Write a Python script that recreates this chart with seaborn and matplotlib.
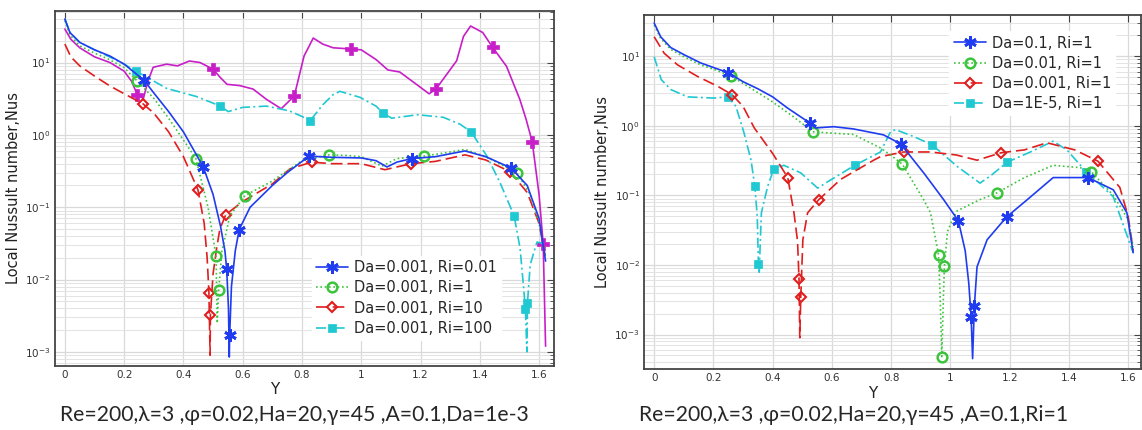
import matplotlib
matplotlib.use("Agg")
import numpy as np
import pandas as pd
import seaborn as sns
from matplotlib import pyplot as plt
from matplotlib.lines import Line2D
from matplotlib.ticker import FuncFormatter, MultipleLocator, LogLocator

# ---------------- 左图 Da=1e-3, 不同 Ri ----------------
l_blue_x = [0, 0.017, 0.05, 0.1, 0.152, 0.2, 0.267, 0.3, 0.35, 0.4, 0.467, 0.5, 0.525, 0.54, 0.546,
            0.552, 0.5547, 0.556, 0.562, 0.575, 0.588, 0.625, 0.7, 0.75, 0.824, 0.9, 1.0, 1.05, 1.087,
            1.12, 1.17, 1.25, 1.35, 1.42, 1.505, 1.56, 1.6, 1.622]
l_blue_y = [40, 26, 19, 15, 12.3, 9.5, 5.7, 3.8, 2.1, 1.1, 0.36, 0.15, 0.055, 0.025, 0.0138,
            0.004, 0.00085, 0.0017, 0.008, 0.025, 0.049, 0.1, 0.2, 0.3, 0.51, 0.49, 0.48, 0.44, 0.36,
            0.42, 0.47, 0.5, 0.6, 0.5, 0.35, 0.2, 0.07, 0.018]
l_blue_m = [0.267, 0.467, 0.546, 0.556, 0.588, 0.824, 1.17, 1.505]

l_green_x = [0, 0.017, 0.05, 0.1, 0.15, 0.2, 0.243, 0.3, 0.35, 0.4, 0.442, 0.483, 0.51, 0.514, 0.519,
             0.53, 0.557, 0.608, 0.7, 0.8, 0.892, 0.95, 1.0, 1.07, 1.12, 1.213, 1.3, 1.35, 1.42,
             1.525, 1.57, 1.6, 1.622]
l_green_y = [38, 24, 17, 13.5, 11, 8.5, 5.6, 3.2, 1.7, 0.85, 0.47, 0.1, 0.021, 0.0025, 0.0072,
             0.025, 0.077, 0.145, 0.23, 0.44, 0.53, 0.52, 0.5, 0.37, 0.47, 0.51, 0.58, 0.63, 0.5,
             0.3, 0.15, 0.06, 0.02]
l_green_m = [0.243, 0.442, 0.51, 0.519, 0.608, 0.892, 1.213, 1.525]

l_red_x = [0, 0.02, 0.05, 0.1, 0.15, 0.2, 0.263, 0.3, 0.35, 0.4, 0.449, 0.47, 0.48, 0.486, 0.49,
           0.491, 0.5, 0.512, 0.523, 0.543, 0.6, 0.7, 0.76, 0.833, 0.9, 1.0, 1.08, 1.168, 1.25,
           1.35, 1.42, 1.502, 1.56, 1.6, 1.622]
l_red_y = [18, 12, 9, 6.5, 4.8, 3.7, 2.7, 2.0, 1.1, 0.5, 0.174, 0.06, 0.02, 0.0066, 0.0009,
           0.0032, 0.012, 0.027, 0.05, 0.079, 0.12, 0.21, 0.34, 0.42, 0.4, 0.4, 0.33, 0.4, 0.43,
           0.53, 0.45, 0.31, 0.16, 0.06, 0.02]
l_red_m = [0.263, 0.449, 0.486, 0.491, 0.543, 0.833, 1.168, 1.502]

l_cyan_x = [0, 0.017, 0.05, 0.1, 0.15, 0.2, 0.24, 0.27, 0.298, 0.343, 0.443, 0.525, 0.551, 0.6,
            0.68, 0.757, 0.8, 0.827, 0.87, 0.905, 0.928, 0.996, 1.05, 1.073, 1.103, 1.19, 1.277,
            1.334, 1.371, 1.424, 1.468, 1.516, 1.536, 1.546, 1.554, 1.559, 1.561, 1.57, 1.593,
            1.61, 1.622]
l_cyan_y = [40, 26, 19, 15, 12, 9.5, 7.6, 6.5, 5.6, 4.4, 3.4, 2.5, 2.1, 2.4, 2.5, 2.15, 1.8, 1.56,
            2.6, 3.6, 4.0, 3.3, 2.5, 2.0, 1.7, 1.9, 1.75, 1.4, 1.1, 0.51, 0.22, 0.076, 0.027,
            0.0094, 0.0039, 0.001, 0.0048, 0.016, 0.033, 0.032, 0.025]
l_cyan_m = [0.24, 0.525, 0.827, 1.073, 1.371, 1.516, 1.554, 1.561]

l_mag_x = [0, 0.02, 0.05, 0.1, 0.152, 0.2, 0.225, 0.245, 0.265, 0.28, 0.298, 0.343, 0.38, 0.42,
           0.456, 0.5, 0.523, 0.547, 0.59, 0.635, 0.68, 0.73, 0.774, 0.807, 0.838, 0.87, 0.905,
           0.965, 1.0, 1.05, 1.09, 1.13, 1.198, 1.229, 1.252, 1.29, 1.322, 1.345, 1.369, 1.41,
           1.443, 1.49, 1.535, 1.556, 1.577, 1.6, 1.614, 1.622]
l_mag_y = [29, 21, 16, 12, 10, 7.6, 5.5, 3.55, 3.2, 5.5, 8.6, 9.5, 9.0, 10.5, 10.0, 8.1, 6.3, 5.0,
           4.8, 4.3, 3.1, 2.3, 3.45, 12.3, 21.8, 18, 16, 15.4, 15, 11, 7.9, 7.4, 4.6, 3.7, 4.3,
           7.0, 10.6, 23, 32, 26, 16.3, 8.9, 3.1, 1.66, 0.8, 0.15, 0.031, 0.0012]
l_mag_m = [0.245, 0.5, 0.774, 0.965, 1.252, 1.443, 1.577, 1.614]

l_labels = ["Da=0.001, Ri=0.01", "Da=0.001, Ri=1", "Da=0.001, Ri=10", "Da=0.001, Ri=100"]

# ---------------- 右图 Ri=1, 不同 Da ----------------
r_blue_x = [0, 0.022, 0.056, 0.101, 0.157, 0.249, 0.3, 0.35, 0.4, 0.45, 0.525, 0.545, 0.606, 0.673,
            0.774, 0.832, 0.91, 0.977, 1.027, 1.05, 1.062, 1.07, 1.075, 1.081, 1.09, 1.124, 1.19,
            1.26, 1.347, 1.465, 1.55, 1.596, 1.617]
r_blue_y = [30, 19, 13.3, 10.5, 8, 5.8, 4.3, 3.4, 2.6, 1.8, 1.1, 0.93, 0.97, 0.9,
            0.74, 0.55, 0.21, 0.087, 0.043, 0.016, 0.0055, 0.0018, 0.00045, 0.0026, 0.0094, 0.023,
            0.049, 0.087, 0.18, 0.18, 0.12, 0.056, 0.015]
r_blue_m = [0.249, 0.525, 0.832, 1.027, 1.07, 1.081, 1.19, 1.465]

r_green_x = [0, 0.022, 0.056, 0.101, 0.157, 0.2, 0.259, 0.32, 0.4, 0.47, 0.535, 0.586, 0.673, 0.764,
             0.798, 0.838, 0.876, 0.91, 0.933, 0.96, 0.965, 0.971, 0.976, 0.98, 0.99, 1.007, 1.023,
             1.1, 1.158, 1.25, 1.347, 1.438, 1.475, 1.55, 1.6, 1.617]
r_green_y = [28, 18, 12.5, 9.8, 7.5, 6.5, 5.2, 3.6, 2.2, 1.35, 0.82, 0.79, 0.75, 0.48,
             0.38, 0.28, 0.15, 0.086, 0.056, 0.014, 0.004, 0.00048, 0.003, 0.0097, 0.03, 0.045, 0.06,
             0.087, 0.109, 0.18, 0.27, 0.25, 0.22, 0.1, 0.045, 0.018]
r_green_m = [0.259, 0.535, 0.838, 0.96, 0.971, 0.98, 1.158, 1.475]

r_red_x = [0, 0.034, 0.079, 0.147, 0.214, 0.263, 0.3, 0.338, 0.4, 0.451, 0.472, 0.484, 0.489,
           0.4916, 0.495, 0.502, 0.518, 0.556, 0.63, 0.741, 0.764, 0.842, 0.933, 1.02, 1.09, 1.172,
           1.25, 1.326, 1.42, 1.498, 1.572, 1.6, 1.617]
r_red_y = [19, 11, 7.5, 5.1, 3.7, 2.8, 1.9, 0.93, 0.4, 0.18, 0.056, 0.022, 0.0063,
           0.0009, 0.0035, 0.023, 0.056, 0.087, 0.17, 0.32, 0.36, 0.42, 0.42, 0.38, 0.32, 0.41,
           0.45, 0.57, 0.45, 0.31, 0.13, 0.05, 0.016]
r_red_m = [0.263, 0.451, 0.489, 0.495, 0.556, 0.842, 1.172, 1.498]

r_cyan_x = [0, 0.024, 0.057, 0.113, 0.2, 0.249, 0.276, 0.303, 0.327, 0.34, 0.348, 0.352, 0.3546,
            0.358, 0.362, 0.383, 0.404, 0.438, 0.495, 0.552, 0.586, 0.677, 0.764, 0.798, 0.815,
            0.876, 0.939, 1.023, 1.1, 1.135, 1.192, 1.27, 1.347, 1.393, 1.458, 1.55, 1.617]
r_cyan_y = [9.8, 4.6, 3.3, 2.6, 2.5, 2.6, 1.9, 0.8, 0.32, 0.134, 0.05, 0.0104, 0.0074,
            0.02, 0.056, 0.134, 0.24, 0.27, 0.21, 0.127, 0.157, 0.27, 0.42, 0.82, 0.88,
            0.7, 0.53, 0.26, 0.15, 0.19, 0.3, 0.42, 0.6, 0.45, 0.22, 0.095, 0.015]
r_cyan_m = [0.249, 0.34, 0.352, 0.404, 0.677, 0.939, 1.192, 1.458]

r_labels = ["Da=0.1, Ri=1", "Da=0.01, Ri=1", "Da=0.001, Ri=1", "Da=1E-5, Ri=1"]

caption_left = "Re=200,λ=3 ,φ=0.02,Ha=20,γ=45 ,A=0.1,Da=1e-3"
caption_right = "Re=200,λ=3 ,φ=0.02,Ha=20,γ=45 ,A=0.1,Ri=1"

# 线型 / 颜色
BLUE, GREEN, RED, CYAN, MAG = "#1f3cf0", "#3cc43c", "#e01e1e", "#20c8d2", "#c81ec8"
STYLES = [
    dict(color=BLUE, linestyle="-", marker=(6, 2, 0), markersize=9, markerfacecolor=BLUE, markeredgewidth=2.0),
    dict(color=GREEN, linestyle=(0, (1, 1.6)), marker="o", markersize=7, markerfacecolor="none", markeredgewidth=1.8),
    dict(color=RED, linestyle=(0, (7, 3)), marker="D", markersize=5, markerfacecolor="none", markeredgewidth=1.5),
    dict(color=CYAN, linestyle=(0, (6, 2, 1.2, 2)), marker="s", markersize=6, markerfacecolor=CYAN, markeredgewidth=0.5),
]
MAG_STYLE = dict(color=MAG, linestyle="-", marker="P", markersize=9, markerfacecolor=MAG, markeredgewidth=0.5)

sns.set_theme(style="white")
plt.rcParams["font.family"] = ["DejaVu Sans"]
plt.rcParams["axes.unicode_minus"] = False


def draw_curve(ax, xs, ys, marks, style):
    idx = [xs.index(m) for m in marks]
    sns.lineplot(x=xs, y=ys, ax=ax, estimator=None, sort=False, lw=1.2,
                 markevery=idx, markeredgecolor=style["color"], **style)


def setup_axes(ax, ylim, xmax):
    ax.set_yscale("log")
    ax.set_xlim(-0.034, xmax)
    ax.set_ylim(*ylim)
    ax.xaxis.set_major_locator(MultipleLocator(0.2))
    ax.xaxis.set_major_formatter(FuncFormatter(lambda v, p: "%g" % round(v, 2)))
    ax.yaxis.set_major_locator(LogLocator(base=10))
    ax.yaxis.set_minor_locator(LogLocator(base=10, subs=np.arange(2, 10)))
    ax.grid(which="major", color="#d9d9d9", lw=0.9)
    ax.grid(which="minor", axis="y", color="#e3e3e3", lw=0.7)
    ax.set_axisbelow(True)
    ax.tick_params(which="both", direction="in", top=True, right=True, colors="#444444",
                   labelsize=7.5, labelcolor="#333333", pad=3)
    ax.tick_params(which="major", length=5, width=0.8)
    ax.tick_params(which="minor", length=3, width=0.6)
    for s in ax.spines.values():
        s.set_color("#444444")
        s.set_linewidth(1.3)
    ax.set_xlabel("Y", fontsize=11, color="#222222")
    ax.set_ylabel("Local Nussult number,Nus", fontsize=10.5, color="#222222")


def make_legend(ax, labels, anchor):
    handles = [Line2D([], [], lw=1.2, markeredgecolor=st["color"], **st) for st in STYLES]
    leg = ax.legend(handles, labels, loc="upper left", bbox_to_anchor=anchor, fontsize=10.5,
                    frameon=True, framealpha=1, edgecolor="white", fancybox=False,
                    handlelength=2.2, handletextpad=0.4, labelspacing=0.35, borderpad=0.3)
    return leg


fig = plt.figure(figsize=(11.42, 4.30), dpi=100)
ax1 = fig.add_axes([0.048, 0.149, 0.437, 0.826])
ax2 = fig.add_axes([0.564, 0.142, 0.435, 0.823])

setup_axes(ax1, (6.4e-4, 52), 1.65)
setup_axes(ax2, (3.2e-4, 39), 1.643)

# 左图
draw_curve(ax1, l_mag_x, l_mag_y, l_mag_m, MAG_STYLE)
draw_curve(ax1, l_cyan_x, l_cyan_y, l_cyan_m, STYLES[3])
draw_curve(ax1, l_red_x, l_red_y, l_red_m, STYLES[2])
draw_curve(ax1, l_green_x, l_green_y, l_green_m, STYLES[1])
draw_curve(ax1, l_blue_x, l_blue_y, l_blue_m, STYLES[0])

# 右图
draw_curve(ax2, r_cyan_x, r_cyan_y, r_cyan_m, STYLES[3])
draw_curve(ax2, r_red_x, r_red_y, r_red_m, STYLES[2])
draw_curve(ax2, r_green_x, r_green_y, r_green_m, STYLES[1])
draw_curve(ax2, r_blue_x, r_blue_y, r_blue_m, STYLES[0])

make_legend(ax1, l_labels, (0.5, 0.33))
make_legend(ax2, r_labels, (0.6, 0.975))

ax1.yaxis.set_label_coords(-0.068, 0.5)
ax1.xaxis.set_label_coords(0.44, -0.046)
ax2.yaxis.set_label_coords(-0.068, 0.5)
ax2.xaxis.set_label_coords(0.46, -0.048)

# 下方参数说明
cap_font = ["Lato", "DejaVu Sans"]
fig.text(0.258, 0.034, caption_left, ha="center", va="center", fontsize=15.2, family=cap_font)
fig.text(0.747, 0.036, caption_right, ha="center", va="center", fontsize=15.2, family=cap_font)

fig.savefig("out.png", dpi=100)
